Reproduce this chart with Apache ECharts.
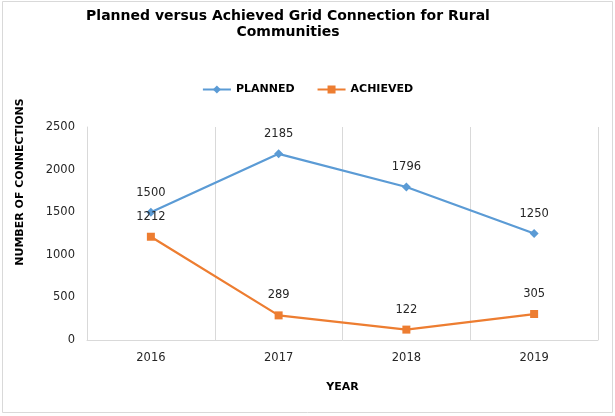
<!DOCTYPE html>
<html>
<head>
<meta charset="utf-8">
<script src="https://cdn.jsdelivr.net/npm/echarts@6/dist/echarts.min.js"></script>
<style>html,body{margin:0;padding:0;background:#fff}#c{width:615px;height:416px}</style>
</head>
<body>
<div id="c"></div>
<script>
const years = ['2016', '2017', '2018', '2019'];
const planned = [1500, 2185, 1796, 1250];
const achieved = [1212, 289, 122, 305];
const yTicks = { min: 0, max: 2500, interval: 500 };

const font = 'DejaVu Sans';
const chart = echarts.init(document.getElementById('c'), null, { renderer: 'canvas' });
chart.setOption({
  backgroundColor: '#fff',
  animation: false,
  title: [
    { text: 'Planned versus Achieved Grid Connection for Rural', left: 283, top: 4, textAlign: 'center',
      textStyle: { fontFamily: font, fontSize: 14, fontWeight: 'bold', color: '#000' } },
    { text: 'Communities', left: 283, top: 20, textAlign: 'center',
      textStyle: { fontFamily: font, fontSize: 14, fontWeight: 'bold', color: '#000' } }
  ],
  legend: {
    top: 79, left: 'center', itemGap: 22, itemWidth: 28, itemHeight: 10,
    textStyle: { fontFamily: font, fontSize: 11, fontWeight: 'bold', color: '#000' },
    data: ['PLANNED', 'ACHIEVED']
  },
  grid: { left: 87, right: 17, top: 127, bottom: 76 },
  xAxis: {
    type: 'category', data: years, boundaryGap: true,
    name: 'YEAR', nameLocation: 'middle', nameGap: 42,
    nameTextStyle: { fontFamily: font, fontSize: 11, fontWeight: 'bold', color: '#000' },
    axisLine: { lineStyle: { color: '#d9d9d9', width: 1 } },
    axisTick: { show: false },
    splitLine: { show: true, lineStyle: { color: '#d9d9d9', width: 1 } },
    axisLabel: { fontFamily: font, fontSize: 11.5, color: '#262626', margin: 12 }
  },
  yAxis: {
    type: 'value', min: yTicks.min, max: yTicks.max, interval: yTicks.interval,
    axisLine: { show: true, lineStyle: { color: '#d9d9d9', width: 1 } },
    axisTick: { show: false },
    splitLine: { show: false },
    axisLabel: { fontFamily: font, fontSize: 11.5, color: '#262626', margin: 12, formatter: v => String(v) }
  },
  graphic: [
    { type: 'rect', shape: { x: 2.5, y: 1.5, width: 610, height: 411 }, style: { fill: 'none', stroke: '#d9d9d9', lineWidth: 1 }, silent: true },
    { type: 'text', x: 20, y: 182, rotation: Math.PI / 2,
      style: { text: 'NUMBER OF CONNECTIONS', fontFamily: font, fontSize: 11, fontWeight: 'bold', fill: '#000', align: 'center', verticalAlign: 'middle' } }
  ],
  series: [
    { name: 'PLANNED', type: 'line', data: planned, symbol: 'diamond', symbolSize: 9,
      itemStyle: { color: '#5b9bd5' }, lineStyle: { color: '#5b9bd5', width: 2.25 },
      label: { show: true, position: 'top', distance: 9, fontFamily: font, fontSize: 11.5, color: '#262626' } },
    { name: 'ACHIEVED', type: 'line', data: achieved, symbol: 'rect', symbolSize: 8,
      itemStyle: { color: '#ed7d31' }, lineStyle: { color: '#ed7d31', width: 2.25 },
      label: { show: true, position: 'top', distance: 10, fontFamily: font, fontSize: 11.5, color: '#262626' } }
  ]
});
</script>
</body>
</html>
